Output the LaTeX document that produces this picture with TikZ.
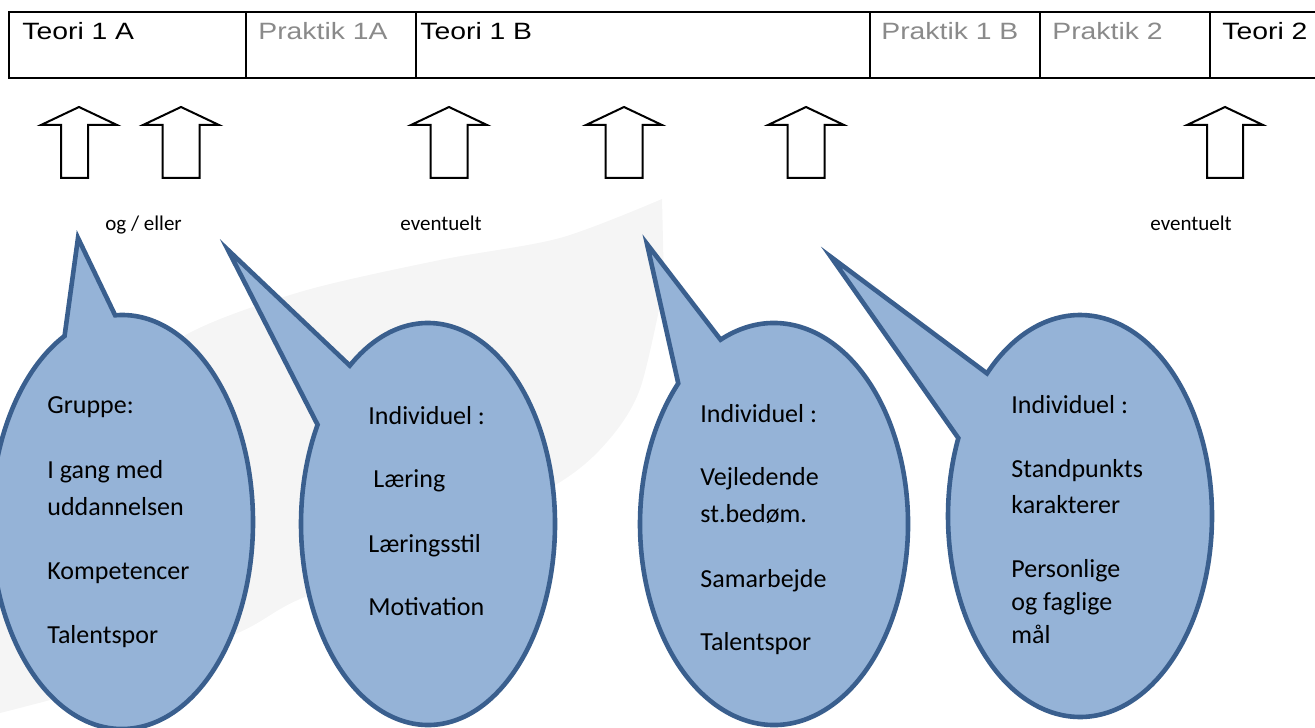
\documentclass[tikz,border=0pt]{standalone}
\usepackage{fontspec}
\usepackage{graphicx}
\setmainfont{Carlito}
\newfontfamily\arialfont{Liberation Sans}
\usepackage{tikz}

\definecolor{bubblefill}{HTML}{95B3D7}
\definecolor{bubbleline}{HTML}{3A5F8E}
\definecolor{swooshgray}{HTML}{F5F5F5}
\definecolor{praktikgray}{HTML}{8A8A8A}
\newcommand{\celltxt}[1]{\scalebox{1.2}[1]{#1}}

\begin{document}
\begin{tikzpicture}[x=0.5pt,y=-0.5pt,
  bubble/.style={fill=bubblefill,draw=bubbleline,line width=2.3pt,line join=miter},
  bubtext/.style={anchor=base west,inner sep=0pt,font=\fontsize{13}{15}\selectfont},
  smalltext/.style={anchor=base west,inner sep=0pt,font=\fontsize{10.5}{12}\selectfont},
  celltext/.style={anchor=base west,inner sep=0pt,font=\arialfont\fontsize{11.8}{13}\selectfont},
  uparrow/.style={draw=black,fill=white,line width=1pt,line join=miter}]
\useasboundingbox (0,0) rectangle (1315,727);
\clip (0,0) rectangle (1315,727);

% faint background swoosh
\fill[swooshgray] plot[smooth] coordinates {(0,540) (80,420) (182,337) (300,292) (440,260) (560,238) (662,199)}
  -- plot[smooth] coordinates {(664,285) (640,389) (607,442) (557,484) (430,550) (300,599) (240,632) (120,680) (0,713)}
  -- cycle;

% time line
\draw[line width=1pt] (9,12) rectangle (1340,78);
\foreach \x in {246,416,870,1040,1210}
  \draw[line width=1pt] (\x,12) -- (\x,78);
\node[celltext]                   (T1A) at (22,40)   {\celltxt{Teori 1 A}};
\node[celltext,text=praktikgray]  (P1A) at (258,40)  {\celltxt{Praktik 1A}};
\node[celltext]                   (T1B) at (420,40)  {\celltxt{Teori 1 B}};
\node[celltext,text=praktikgray]  (P1B) at (881,40)  {\celltxt{Praktik 1 B}};
\node[celltext,text=praktikgray]  (P2)  at (1052,40) {\celltxt{Praktik 2}};
\node[celltext]                   (T2)  at (1222,40) {\celltxt{Teori 2}};

% block arrows: tip x / shaft left / shaft right
\foreach \x/\l/\r in {79/18/9, 181/18.5/18.5, 449/18.5/18.5, 624/18.5/18.5, 806/18.5/18.5, 1225/18/18}
  \draw[uparrow] (\x-\l,178) -- (\x-\l,125) -- (\x-38,125) -- (\x,107)
     -- (\x+38,125) -- (\x+\r,125) -- (\x+\r,178) -- cycle;

\node[smalltext] (OE)  at (105,230)  {og / eller};
\node[smalltext] (EV1) at (400,230)  {eventuelt};
\node[smalltext] (EV2) at (1150,230) {eventuelt};

% callouts
\coordinate (C1) at (122,522);  \coordinate (tip1) at (78,238);
\coordinate (C2) at (428,524);  \coordinate (tip2) at (228,250);
\coordinate (C3) at (774,524);  \coordinate (tip3) at (647,244);
\coordinate (C4) at (1080,516); \coordinate (tip4) at (831,257);

\draw[bubble] (C1) ++(-93:131 and 207)
  arc[start angle=-93,end angle=244,x radius=131,y radius=207] -- (tip1) -- cycle;
\draw[bubble] (C2) ++(-128:127 and 201)
  arc[start angle=-128,end angle=209.6,x radius=127,y radius=201] -- (tip2) -- cycle;
\draw[bubble] (C3) ++(-113.5:134 and 201)
  arc[start angle=-113.5,end angle=224.4,x radius=134,y radius=201] -- (tip3) -- cycle;
\draw[bubble] (C4) ++(-134.8:132 and 201)
  arc[start angle=-134.8,end angle=202.8,x radius=132,y radius=201] -- (tip4) -- cycle;

\foreach \t/\x/\y [count=\i] in {Gruppe:/47/413, I gang med/47/478, uddannelsen/47/515,
    Kompetencer/47/579, Talentspor/47/643}
  \node[bubtext] (g\i) at (\x,\y) {\t};
\foreach \t/\x/\y [count=\i] in {Individuel :/368/424, Læring/373/487,
    Læringsstil/368/552, Motivation/368/615}
  \node[bubtext] (a\i) at (\x,\y) {\t};
\foreach \t/\x/\y [count=\i] in {Individuel :/700/422, Vejledende/700/485, st.bedøm./700/522,
    Samarbejde/700/587, Talentspor/700/650}
  \node[bubtext] (b\i) at (\x,\y) {\t};
\foreach \t/\x/\y [count=\i] in {Individuel :/1011/413, Standpunkts/1011/477, karakterer/1011/513,
    Personlige/1011/577, og faglige/1011/610, mål/1011/643}
  \node[bubtext] (c\i) at (\x,\y) {\t};
\end{tikzpicture}
\end{document}
